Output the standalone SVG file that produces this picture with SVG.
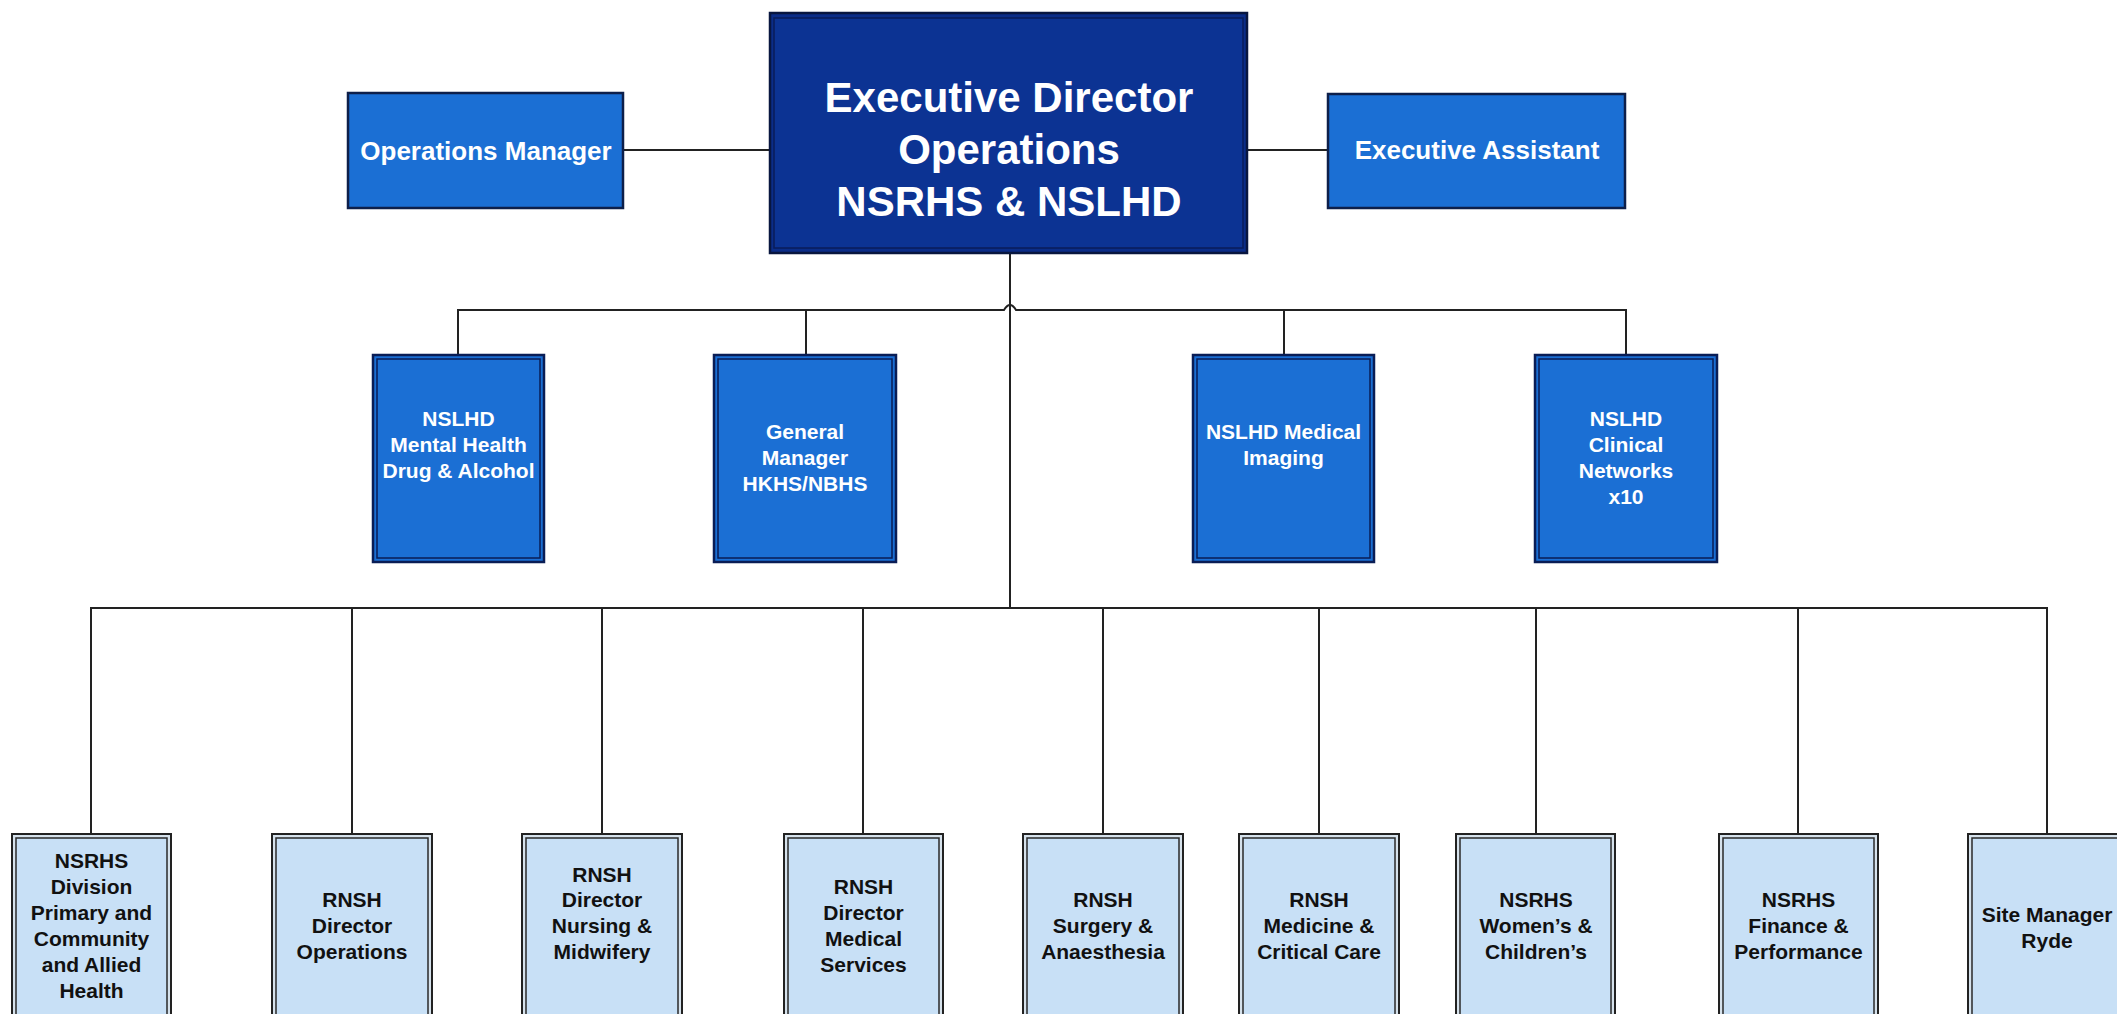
<svg xmlns="http://www.w3.org/2000/svg" width="2117" height="1014" viewBox="0 0 2117 1014">
<style>
.bg{fill:#ffffff}
.conn{fill:none;stroke:#222222;stroke-width:2}
.top-o{fill:#0b2d88;stroke:#08163f;stroke-width:2.5}
.top-i{fill:#0c3393;stroke:#0a1d5a;stroke-width:1.5}
.side{fill:#1b6fd4;stroke:#0d1f4a;stroke-width:2.5}
.l2-o{fill:#1b6fd4;stroke:#0a1d55;stroke-width:2.5}
.l2-i{fill:#1b6fd4;stroke:#0a1d55;stroke-width:1.5}
.l3-o{fill:#d6e2ec;stroke:#222222;stroke-width:2}
.l3-i{fill:#c8e0f6;stroke:#2a2a2a;stroke-width:1.5}
text{font-family:"Liberation Sans",Arial,sans-serif;font-weight:bold;text-anchor:middle}
.tw{fill:#ffffff}
.tb{fill:#111111}
.f42{font-size:42px}
.f26{font-size:26px}
.f21{font-size:21px}
</style>
<rect class="bg" x="0" y="0" width="2117" height="1014"/>
<g id="connectors">
<line class="conn" x1="623" y1="150" x2="770" y2="150"/>
<line class="conn" x1="1247" y1="150" x2="1328" y2="150"/>
<line class="conn" x1="1010" y1="253" x2="1010" y2="608"/>
<path class="conn" d="M458,355 V310 H1004 Q1010,300 1016,310 H1626 V355"/>
<line class="conn" x1="806" y1="310" x2="806" y2="355"/>
<line class="conn" x1="1284" y1="310" x2="1284" y2="355"/>
<path class="conn" d="M91,834 V608 H2047 V834"/>
<line class="conn" x1="352" y1="608" x2="352" y2="834"/>
<line class="conn" x1="602" y1="608" x2="602" y2="834"/>
<line class="conn" x1="863" y1="608" x2="863" y2="834"/>
<line class="conn" x1="1103" y1="608" x2="1103" y2="834"/>
<line class="conn" x1="1319" y1="608" x2="1319" y2="834"/>
<line class="conn" x1="1536" y1="608" x2="1536" y2="834"/>
<line class="conn" x1="1798" y1="608" x2="1798" y2="834"/>
</g>
<g id="exec-director">
<rect class="top-o" x="770" y="13" width="477" height="240"/>
<rect class="top-i" x="774" y="18" width="469" height="230"/>
<text class="tw f42" x="1009" y="112">Executive Director</text>
<text class="tw f42" x="1009" y="164">Operations</text>
<text class="tw f42" x="1009" y="216">NSRHS &amp; NSLHD</text>
</g>
<g id="operations-manager">
<rect class="side" x="348" y="93" width="275" height="115"/>
<text class="tw f26" x="486" y="160">Operations Manager</text>
</g>
<g id="executive-assistant">
<rect class="side" x="1328" y="94" width="297" height="114"/>
<text class="tw f26" x="1477" y="159">Executive Assistant</text>
</g>
<g id="mental-health">
<rect class="l2-o" x="373" y="355" width="171" height="207"/>
<rect class="l2-i" x="377" y="359" width="163" height="199"/>
<text class="tw f21" x="458.5" y="426">NSLHD</text>
<text class="tw f21" x="458.5" y="452">Mental Health</text>
<text class="tw f21" x="458.5" y="478">Drug &amp; Alcohol</text>
</g>
<g id="general-manager">
<rect class="l2-o" x="714" y="355" width="182" height="207"/>
<rect class="l2-i" x="718" y="359" width="174" height="199"/>
<text class="tw f21" x="805" y="439">General</text>
<text class="tw f21" x="805" y="465">Manager</text>
<text class="tw f21" x="805" y="491">HKHS/NBHS</text>
</g>
<g id="medical-imaging">
<rect class="l2-o" x="1193" y="355" width="181" height="207"/>
<rect class="l2-i" x="1197" y="359" width="173" height="199"/>
<text class="tw f21" x="1283.5" y="439">NSLHD Medical</text>
<text class="tw f21" x="1283.5" y="465">Imaging</text>
</g>
<g id="clinical-networks">
<rect class="l2-o" x="1535" y="355" width="182" height="207"/>
<rect class="l2-i" x="1539" y="359" width="174" height="199"/>
<text class="tw f21" x="1626" y="426">NSLHD</text>
<text class="tw f21" x="1626" y="452">Clinical</text>
<text class="tw f21" x="1626" y="478">Networks</text>
<text class="tw f21" x="1626" y="504">x10</text>
</g>
<g id="primary-community">
<rect class="l3-o" x="12" y="834" width="159" height="190"/>
<rect class="l3-i" x="16" y="838" width="151" height="190"/>
<text class="tb f21" x="91.5" y="868">NSRHS</text>
<text class="tb f21" x="91.5" y="894">Division</text>
<text class="tb f21" x="91.5" y="920">Primary and</text>
<text class="tb f21" x="91.5" y="946">Community</text>
<text class="tb f21" x="91.5" y="972">and Allied</text>
<text class="tb f21" x="91.5" y="998">Health</text>
</g>
<g id="director-operations">
<rect class="l3-o" x="272" y="834" width="160" height="190"/>
<rect class="l3-i" x="276" y="838" width="152" height="190"/>
<text class="tb f21" x="352" y="907">RNSH</text>
<text class="tb f21" x="352" y="933">Director</text>
<text class="tb f21" x="352" y="959">Operations</text>
</g>
<g id="director-nursing">
<rect class="l3-o" x="522" y="834" width="160" height="190"/>
<rect class="l3-i" x="526" y="838" width="152" height="190"/>
<text class="tb f21" x="602" y="882">RNSH</text>
<text class="tb f21" x="602" y="907">Director</text>
<text class="tb f21" x="602" y="933">Nursing &amp;</text>
<text class="tb f21" x="602" y="959">Midwifery</text>
</g>
<g id="director-medical">
<rect class="l3-o" x="784" y="834" width="159" height="190"/>
<rect class="l3-i" x="788" y="838" width="151" height="190"/>
<text class="tb f21" x="863.5" y="894">RNSH</text>
<text class="tb f21" x="863.5" y="920">Director</text>
<text class="tb f21" x="863.5" y="946">Medical</text>
<text class="tb f21" x="863.5" y="972">Services</text>
</g>
<g id="surgery">
<rect class="l3-o" x="1023" y="834" width="160" height="190"/>
<rect class="l3-i" x="1027" y="838" width="152" height="190"/>
<text class="tb f21" x="1103" y="907">RNSH</text>
<text class="tb f21" x="1103" y="933">Surgery &amp;</text>
<text class="tb f21" x="1103" y="959">Anaesthesia</text>
</g>
<g id="medicine">
<rect class="l3-o" x="1239" y="834" width="160" height="190"/>
<rect class="l3-i" x="1243" y="838" width="152" height="190"/>
<text class="tb f21" x="1319" y="907">RNSH</text>
<text class="tb f21" x="1319" y="933">Medicine &amp;</text>
<text class="tb f21" x="1319" y="959">Critical Care</text>
</g>
<g id="womens-childrens">
<rect class="l3-o" x="1456" y="834" width="159" height="190"/>
<rect class="l3-i" x="1460" y="838" width="151" height="190"/>
<text class="tb f21" x="1536" y="907">NSRHS</text>
<text class="tb f21" x="1536" y="933">Women’s &amp;</text>
<text class="tb f21" x="1536" y="959">Children’s</text>
</g>
<g id="finance">
<rect class="l3-o" x="1719" y="834" width="159" height="190"/>
<rect class="l3-i" x="1723" y="838" width="151" height="190"/>
<text class="tb f21" x="1798.5" y="907">NSRHS</text>
<text class="tb f21" x="1798.5" y="933">Finance &amp;</text>
<text class="tb f21" x="1798.5" y="959">Performance</text>
</g>
<g id="site-manager-ryde">
<rect class="l3-o" x="1968" y="834" width="160" height="190"/>
<rect class="l3-i" x="1972" y="838" width="152" height="190"/>
<text class="tb f21" x="2047" y="922">Site Manager</text>
<text class="tb f21" x="2047" y="948">Ryde</text>
</g>
</svg>
